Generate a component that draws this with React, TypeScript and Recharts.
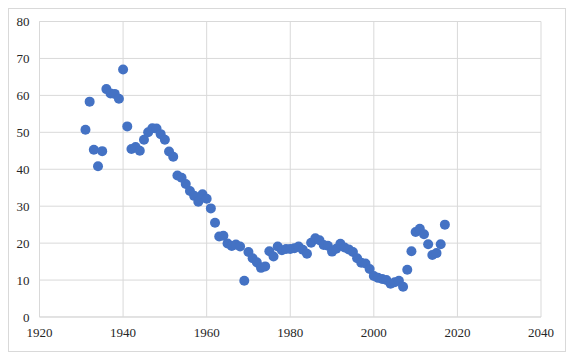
import { ScatterChart, Scatter, XAxis, YAxis, CartesianGrid } from 'recharts'

const YEARS = [
  1931, 1932, 1933, 1934, 1935, 1936, 1937, 1938, 1939, 1940,
  1941, 1942, 1943, 1944, 1945, 1946, 1947, 1948, 1949, 1950,
  1951, 1952, 1953, 1954, 1955, 1956, 1957, 1958, 1959, 1960,
  1961, 1962, 1963, 1964, 1965, 1966, 1967, 1968, 1969, 1970,
  1971, 1972, 1973, 1974, 1975, 1976, 1977, 1978, 1979, 1980,
  1981, 1982, 1983, 1984, 1985, 1986, 1987, 1988, 1989, 1990,
  1991, 1992, 1993, 1994, 1995, 1996, 1997, 1998, 1999, 2000,
  2001, 2002, 2003, 2004, 2005, 2006, 2007, 2008, 2009, 2010,
  2011, 2012, 2013, 2014, 2015, 2016, 2017,
]

const VALUES = [
  50.7, 58.3, 45.3, 40.8, 44.9, 61.7, 60.5, 60.4, 59.1, 67.0,
  51.6, 45.5, 46.0, 45.0, 48.0, 50.0, 51.1, 51.0, 49.5, 48.0,
  44.8, 43.4, 38.3, 37.7, 36.0, 34.1, 32.8, 31.2, 33.2, 32.0,
  29.4, 25.5, 21.8, 22.0, 19.9, 19.2, 19.6, 19.1, 9.8, 17.6,
  15.9, 14.8, 13.3, 13.7, 17.8, 16.4, 19.1, 18.1, 18.4, 18.4,
  18.6, 19.1, 18.2, 17.1, 20.1, 21.3, 20.8, 19.5, 19.3, 17.7,
  18.5, 19.8, 18.8, 18.3, 17.6, 15.9, 14.7, 14.5, 13.0, 11.1,
  10.6, 10.3, 10.0, 9.0, 9.4, 9.8, 8.2, 12.8, 17.8, 23.0,
  23.9, 22.4, 19.7, 16.8, 17.3, 19.7, 25.0,
]

const X_TICKS = [1920, 1940, 1960, 1980, 2000, 2020, 2040]
const Y_TICKS = [0, 10, 20, 30, 40, 50, 60, 70, 80]

const data = YEARS.map((year, i) => ({ year, value: VALUES[i] }))

const GRID = '#d9d9d9'
const labelStyle = { fontFamily: 'Liberation Serif', fontSize: 13 }

const Dot = (props: any) => <circle cx={props.cx} cy={props.cy} r={5} fill="#4472C4" />

const XTick = (props: any) => (
  <text x={props.x} y={props.y} dy={16} textAnchor="middle" fill="#262626" style={labelStyle}>
    {props.payload.value}
  </text>
)

const YTick = (props: any) => (
  <text x={props.x} y={props.y} dy={4.5} textAnchor="end" fill="#262626" style={labelStyle}>
    {props.payload.value}
  </text>
)

export default function App() {
  return (
    <div style={{ position: 'absolute', left: 0, top: 0, width: 573, height: 361, background: '#fff', fontFamily: 'Liberation Serif' }}>
      <div
        style={{
          position: 'absolute',
          left: 8,
          top: 8,
          width: 556,
          height: 342,
          border: `1px solid ${GRID}`,
        }}
      />
      <div style={{ position: 'absolute', left: 0, top: 0 }}>
        <ScatterChart width={573} height={361} margin={{ top: 21.5, right: 32, bottom: 14, left: 0 }}>
          <CartesianGrid stroke={GRID} />
          <XAxis
            type="number"
            dataKey="year"
            domain={[1920, 2040]}
            ticks={X_TICKS}
            interval={0}
            stroke={GRID}
            tickLine={false}
            tickSize={0}
            tickMargin={4}
            height={30}
            tick={<XTick />}
          />
          <YAxis
            type="number"
            dataKey="value"
            domain={[0, 80]}
            ticks={Y_TICKS}
            interval={0}
            stroke={GRID}
            tickLine={false}
            tickSize={0}
            tickMargin={10}
            width={39.5}
            tick={<YTick />}
          />
          <Scatter data={data} shape={Dot} isAnimationActive={false} />
        </ScatterChart>
      </div>
    </div>
  )
}
